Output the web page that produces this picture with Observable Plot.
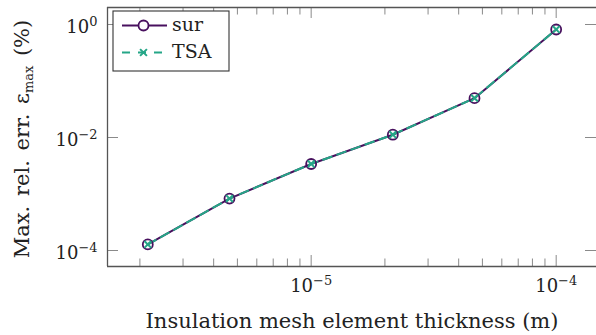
<!DOCTYPE html>
<html>
<head>
<meta charset="utf-8">
<script src="https://cdn.jsdelivr.net/npm/d3@7"></script>
<script src="https://cdn.jsdelivr.net/npm/@observablehq/plot@0.6"></script>
<style>
  html, body { margin: 0; padding: 0; background: #fff; overflow: hidden; }
  #wrap { position: relative; width: 596px; height: 335px; }
  #legend { position: absolute; left: 0; top: 0; }
</style>
</head>
<body>
<div id="wrap"></div>
<script>
// ---- data ----
const thickness = [2.154e-6, 4.642e-6, 1e-5, 2.154e-5, 4.642e-5, 1e-4];
const errSur = [1.28e-4, 8.3e-4, 3.4e-3, 1.12e-2, 4.97e-2, 0.816];
const errTSA = [1.28e-4, 8.3e-4, 3.4e-3, 1.12e-2, 4.97e-2, 0.816];
const seriesNames = ["sur", "TSA"];
const xMajorTicks = [1e-5, 1e-4];
const xMajorExp = ["−5", "−4"];
const xMinorTicks = [2e-6, 3e-6, 4e-6, 5e-6, 6e-6, 7e-6, 8e-6, 9e-6,
                     2e-5, 3e-5, 4e-5, 5e-5, 6e-5, 7e-5, 8e-5, 9e-5];
const yMajorTicks = [1, 1e-2, 1e-4];
const yMajorExp = ["0", "−2", "−4"];
const xLabel = "Insulation mesh element thickness (m)";
const yLabel = "Max. rel. err. ε_{max} (%)";

// ---- styles ----
const purple = "#48105e";
const teal = "#25a687";
const axisColor = "#555";
const tickColor = "#8a8a8a";
const W = 596, H = 335;
const mL = 107, mR = 0, mT = 7, mB = 69;
const plotW = W - mL - mR, plotH = H - mT - mB;
const xDomain = [1.475e-6, 1.4607e-4];
const yDomain = [5.21e-5, 2.0];
const serif = "'DejaVu Serif', serif";

const rows = thickness.map((t, i) => ({t, sur: errSur[i], tsa: errTSA[i]}));

const chart = Plot.plot({
  width: W, height: H,
  marginLeft: mL, marginRight: mR, marginTop: mT, marginBottom: mB,
  style: {fontFamily: serif, background: "white", overflow: "visible"},
  x: {type: "log", domain: xDomain, axis: null},
  y: {type: "log", domain: yDomain, axis: null},
  marks: [
    // minor x ticks (bottom & top, inward)
    Plot.ruleX(xMinorTicks, {x: d => d, stroke: tickColor, strokeWidth: 1, insetTop: plotH - 7.5}),
    Plot.ruleX(xMinorTicks, {x: d => d, stroke: tickColor, strokeWidth: 1, insetBottom: plotH - 7.5}),
    // major x ticks
    Plot.ruleX(xMajorTicks, {x: d => d, stroke: tickColor, strokeWidth: 1, insetTop: plotH - 11}),
    Plot.ruleX(xMajorTicks, {x: d => d, stroke: tickColor, strokeWidth: 1, insetBottom: plotH - 11}),
    // major y ticks (left & right, inward)
    Plot.ruleY(yMajorTicks, {y: d => d, stroke: tickColor, strokeWidth: 1, insetRight: plotW - 11}),
    Plot.ruleY(yMajorTicks, {y: d => d, stroke: tickColor, strokeWidth: 1, insetLeft: plotW - 11}),
    // frame (left, top, bottom)
    Plot.ruleX([xDomain[0]], {stroke: axisColor, strokeWidth: 1.3}),
    Plot.ruleY([yDomain[0], yDomain[1]], {stroke: axisColor, strokeWidth: 1.3}),
    // tick labels
    Plot.text(xMajorTicks, {x: d => d, frameAnchor: "bottom", lineAnchor: "bottom", dy: 25,
      text: (d, i) => `10^{${xMajorExp[i]}}`, fontSize: 18, fill: "#222"}),
    Plot.text(yMajorTicks, {y: d => d, frameAnchor: "left", textAnchor: "end", lineAnchor: "bottom",
      dx: -10, dy: 8, text: (d, i) => `10^{${yMajorExp[i]}}`, fontSize: 18, fill: "#222"}),
    // axis labels
    Plot.text([xLabel], {frameAnchor: "bottom", textAnchor: "middle", lineAnchor: "bottom", dy: 61, fontSize: 21, fill: "#222"}),
    Plot.text([yLabel], {frameAnchor: "left", textAnchor: "middle", rotate: -90, lineAnchor: "middle", dx: -85, dy: 2, fontSize: 21, fill: "#222"}),
    // series
    Plot.line(rows, {x: "t", y: "sur", stroke: purple, strokeWidth: 2}),
    Plot.line(rows, {x: "t", y: "tsa", stroke: teal, strokeWidth: 2, strokeDasharray: "9,6"}),
    Plot.dot(rows, {x: "t", y: "sur", r: 5, stroke: purple, strokeWidth: 1.8, fill: "none"}),
    Plot.dot(rows, {x: "t", y: "tsa", symbol: "times", r: 3.2, stroke: teal, strokeWidth: 2})
  ]
});

// turn ^{..} and _{..} into real super/subscript tspans
d3.select(chart).selectAll("text").each(function() {
  const el = this;
  const txt = el.textContent;
  if (!/[\^_]\{/.test(txt)) return;
  const fs = parseFloat(el.getAttribute("font-size") || getComputedStyle(el).fontSize) || 18;
  el.textContent = "";
  const re = /([\^_])\{([^}]*)\}/g;
  let last = 0, m, shift = 0;
  const add = (s, dy, size) => {
    const ts = document.createElementNS("http://www.w3.org/2000/svg", "tspan");
    ts.textContent = s;
    if (dy) ts.setAttribute("dy", dy);
    if (size) ts.setAttribute("font-size", size);
    el.appendChild(ts);
  };
  while ((m = re.exec(txt))) {
    if (m.index > last) { add(txt.slice(last, m.index), shift ? -shift : 0); shift = 0; }
    const off = m[1] === "^" ? -0.38 * fs : 0.22 * fs;
    add(m[2], off - shift, 0.72 * fs);
    shift = off;
    last = re.lastIndex;
  }
  if (last < txt.length) { add(txt.slice(last), shift ? -shift : 0); }
  if (txt === yLabel) el.setAttribute("word-spacing", "3");
});

const wrap = document.getElementById("wrap");
wrap.appendChild(chart);

// legend overlay
const leg = d3.select(wrap).append("svg").attr("id", "legend")
  .attr("width", W).attr("height", 80)
  .style("font-family", serif);
leg.append("rect").attr("x", 113).attr("y", 11).attr("width", 116).attr("height", 60)
  .attr("fill", "white").attr("stroke", "#333").attr("stroke-width", 1.1);
const legRows = [
  {name: seriesNames[0], color: purple, y: 25.5, dash: null, marker: "circle", ty: 30.5},
  {name: seriesNames[1], color: teal, y: 52.5, dash: "8,8", marker: "times", ty: 57.5}
];
legRows.forEach(r => {
  leg.append("line").attr("x1", 122).attr("x2", 167).attr("y1", r.y).attr("y2", r.y)
    .attr("stroke", r.color).attr("stroke-width", 2).attr("stroke-dasharray", r.dash);
  if (r.marker === "circle") {
    leg.append("circle").attr("cx", 143.5).attr("cy", r.y).attr("r", 5)
      .attr("fill", "white").attr("stroke", r.color).attr("stroke-width", 1.8);
  } else {
    leg.append("path").attr("d", d3.symbol(d3.symbolTimes, 3.2 * 3.2 * Math.PI)())
      .attr("transform", `translate(143.5,${r.y})`)
      .attr("fill", "none").attr("stroke", r.color).attr("stroke-width", 2);
  }
  leg.append("text").attr("x", 172).attr("y", r.ty).attr("font-size", 19).attr("fill", "#222").text(r.name);
});
</script>
</body>
</html>
